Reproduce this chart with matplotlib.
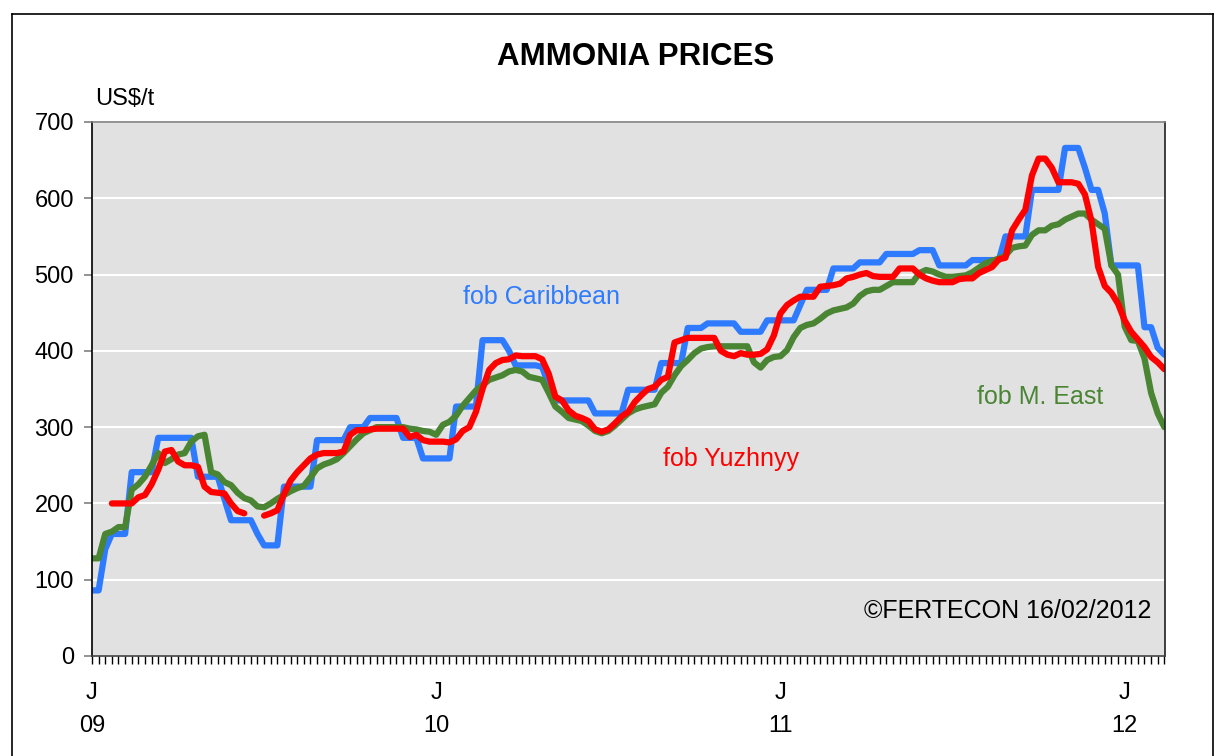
import numpy as np
import matplotlib
matplotlib.use('Agg')
import matplotlib.pyplot as plt
from matplotlib.lines import Line2D

plt.rcParams['font.family'] = ['Liberation Sans', 'DejaVu Sans']

nan = np.nan
# weekly prices, first week of Jan 2009 to mid Feb 2012
caribbean = [86, 86, 140, 160, 160, 160, 241, 241, 241, 241,
             286, 286, 286, 286, 286, 286, 235, 235, 235, 235,
             206, 178, 178, 178, 178, 160, 145, 145, 145, 222,
             222, 222, 222, 222, 283, 283, 283, 283, 283, 300,
             300, 300, 312, 312, 312, 312, 312, 286, 286, 286,
             259, 259, 259, 259, 259, 327, 327, 327, 327, 414,
             414, 414, 414, 400, 381, 381, 381, 381, 379, 355,
             335, 335, 335, 335, 335, 335, 318, 318, 318, 318,
             318, 349, 349, 349, 349, 349, 384, 384, 384, 384,
             430, 430, 430, 436, 436, 436, 436, 436, 425, 425,
             425, 425, 440, 440, 440, 440, 440, 460, 480, 480,
             480, 480, 508, 508, 508, 508, 516, 516, 516, 516,
             527, 527, 527, 527, 527, 532, 532, 532, 512, 512,
             512, 512, 512, 519, 519, 519, 519, 519, 550, 550,
             550, 550, 611, 611, 611, 611, 611, 666, 666, 666,
             640, 611, 611, 580, 512, 512, 512, 512, 512, 431,
             431, 404, 395]

yuzhnyy = [nan, nan, nan, 200, 200, 200, 200, 208, 211, 225,
           244, 268, 270, 255, 250, 250, 248, 222, 215, 214,
           213, 200, 190, 187, nan, nan, 184, 187, 191, 212,
           230, 241, 250, 259, 264, 266, 266, 266, 268, 290,
           296, 296, 297, 298, 298, 298, 298, 298, 287, 290,
           283, 281, 281, 281, 280, 284, 295, 300, 320, 350,
           375, 384, 388, 389, 394, 393, 393, 393, 389, 370,
           340, 335, 322, 315, 312, 308, 297, 294, 297, 305,
           314, 320, 333, 342, 350, 353, 362, 366, 411, 414,
           417, 417, 417, 417, 417, 400, 395, 393, 397, 395,
           395, 396, 402, 420, 449, 460, 466, 471, 471, 471,
           484, 485, 486, 488, 495, 497, 500, 502, 498, 497,
           497, 497, 508, 508, 508, 500, 495, 492, 490, 490,
           490, 494, 495, 495, 502, 506, 510, 520, 522, 558,
           572, 585, 630, 652, 652, 640, 621, 621, 621, 619,
           605, 570, 510, 485, 476, 462, 440, 425, 415, 405,
           392, 385, 376]

m_east = [128, 128, 160, 163, 169, 169, 218, 225, 235, 250,
          266, 253, 258, 264, 266, 281, 288, 290, 241, 238,
          228, 224, 214, 207, 204, 196, 195, 200, 206, 211,
          216, 220, 223, 234, 246, 251, 254, 258, 266, 275,
          284, 292, 296, 300, 300, 300, 300, 300, 298, 297,
          295, 294, 290, 303, 307, 315, 328, 338, 348, 355,
          362, 365, 368, 373, 375, 373, 366, 364, 362, 345,
          327, 320, 312, 310, 308, 302, 295, 292, 295, 302,
          310, 318, 323, 326, 328, 330, 345, 353, 368, 380,
          388, 397, 403, 405, 406, 406, 406, 406, 406, 406,
          385, 378, 388, 392, 393, 401, 418, 430, 434, 436,
          442, 449, 453, 455, 457, 462, 472, 478, 480, 480,
          485, 490, 490, 490, 490, 502, 506, 504, 500, 497,
          497, 498, 499, 503, 509, 515, 518, 521, 525, 535,
          537, 538, 552, 558, 558, 564, 566, 572, 576, 580,
          580, 572, 566, 560, 512, 500, 432, 414, 413, 390,
          345, 318, 300]

year_ticks = [0, 52, 104, 156]
year_labels = ['J\n09', 'J\n10', 'J\n11', 'J\n12']

weeks = np.arange(len(caribbean))

fig = plt.figure(figsize=(12.16, 7.56), dpi=100)
ax = fig.add_axes([92/1216, 1-656/756, (1165-92)/1216, (656-122)/756])
ax.set_facecolor('#E1E1E1')

line_kw = dict(lw=4.5, solid_joinstyle='round', solid_capstyle='round')
ax.plot(weeks, caribbean, color='#2E7BFF', **line_kw)
ax.plot(weeks, m_east, color='#4A8534', **line_kw)
ax.plot(weeks, yuzhnyy, color='#FF0000', **line_kw)

ax.set_xlim(0, 162.1)
ax.set_ylim(0, 700)
ax.set_yticks(range(0, 701, 100))
ax.yaxis.grid(True, color='white', lw=1.5)
ax.set_axisbelow(True)
ax.tick_params(axis='y', direction='out', length=6, width=1.2, color='#808080',
               labelsize=17, pad=7)

ax.set_xticks(year_ticks)
ax.set_xticklabels(year_labels, linespacing=1.6)
ax.set_xticks(weeks, minor=True)
ax.tick_params(axis='x', which='both', direction='out', length=6, width=1,
               color='black', labelsize=17, pad=13)

ax.spines['left'].set_color('black')
ax.spines['bottom'].set_color('#404040')
ax.spines['top'].set_color('#808080')
ax.spines['right'].set_color('#202020')
for s in ax.spines.values():
    s.set_linewidth(1.2)

ax.text(56.0, 470, 'fob Caribbean', color='#2E7BFF', fontsize=18, va='center')
ax.text(86.3, 258, 'fob Yuzhnyy', color='#FF0000', fontsize=18, va='center')
ax.text(133.7, 339, 'fob M. East', color='#4A8534', fontsize=18, va='center')
ax.text(160.1, 59, '©FERTECON 16/02/2012', color='black', fontsize=18,
        va='center', ha='right')

fig.text(636/1216, 1-57/756, 'AMMONIA PRICES', fontsize=22.5, fontweight='bold',
         ha='center', va='center')
fig.text(95/1216, 1-99/756, 'US$/t', fontsize=17, ha='left', va='center')

# chart frame
top = 1-14/756
fig.add_artist(Line2D([12/1216, 1213/1216], [top, top], color='black', lw=1.2))
fig.add_artist(Line2D([12/1216, 12/1216], [0, top], color='black', lw=1.2))
fig.add_artist(Line2D([1213/1216, 1213/1216], [0, top], color='black', lw=1.2))

fig.savefig('out.png', dpi=100)
